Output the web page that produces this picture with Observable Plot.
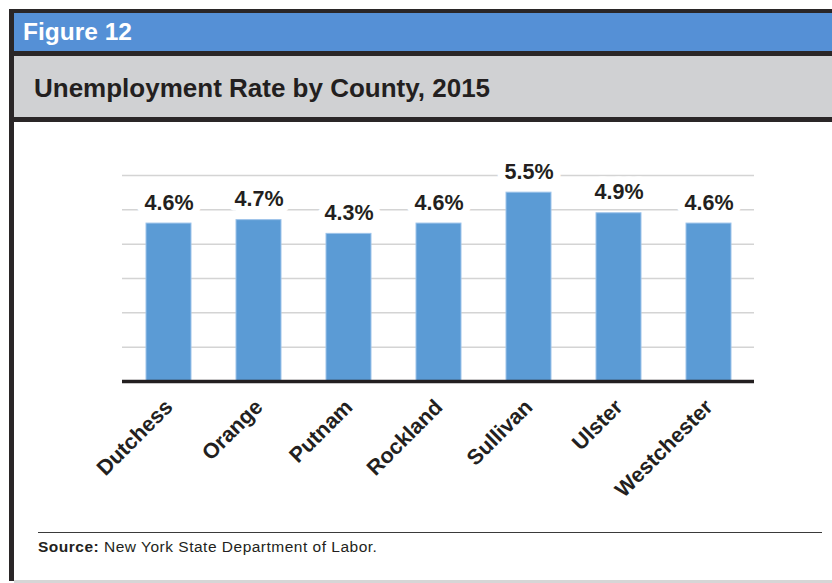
<!DOCTYPE html>
<html>
<head>
<meta charset="utf-8">
<script src="https://cdn.jsdelivr.net/npm/d3@7"></script>
<script src="https://cdn.jsdelivr.net/npm/@observablehq/plot@0.6"></script>
<style>
  html, body { margin: 0; padding: 0; background: #fff; width: 832px; height: 583px; overflow: hidden; }
  body { position: relative; font-family: "Liberation Sans", Arial, Helvetica, sans-serif; }
  .abs { position: absolute; }
  #frameTop { left: 9px; top: 9px; width: 900px; height: 4px; background: #2a2627; }
  #frameLeft { left: 9px; top: 9px; width: 5px; height: 572px; background: #2a2627; }
  #blue { left: 14px; top: 13px; width: 900px; height: 38px; background: #5590d6; }
  #sep1 { left: 14px; top: 51px; width: 900px; height: 5px; background: #2a2627; }
  #gray { left: 14px; top: 56px; width: 900px; height: 61px; background: #d0d1d3; }
  #sep2 { left: 14px; top: 117px; width: 900px; height: 5px; background: #2a2627; }
  #bottomLine { left: 14px; top: 580px; width: 900px; height: 3px; background: #d6d6d6; }
  #fig { left: 23px; top: 17px; color: #fff; font-weight: bold; font-size: 24.5px; line-height: 30px; white-space: nowrap; }
  #title { left: 34px; top: 72px; color: #231f20; font-weight: bold; font-size: 26px; line-height: 32px; white-space: nowrap; }
  #chart { left: 0; top: 122px; }
  #srcLine { left: 38px; top: 532px; width: 784px; height: 1.3px; background: #3a3a3a; }
  #source { left: 38px; top: 538px; color: #231f20; font-size: 15.5px; letter-spacing: 0.5px; line-height: 18px; white-space: nowrap; }
</style>
</head>
<body>
<div class="abs" id="blue"></div>
<div class="abs" id="gray"></div>
<div class="abs" id="frameTop"></div>
<div class="abs" id="frameLeft"></div>
<div class="abs" id="sep1"></div>
<div class="abs" id="sep2"></div>
<div class="abs" id="bottomLine"></div>
<div class="abs" id="fig">Figure 12</div>
<div class="abs" id="title">Unemployment Rate by County, 2015</div>
<div class="abs" id="chart"></div>
<div class="abs" id="srcLine"></div>
<div class="abs" id="source"><b>Source:</b> New York State Department of Labor.</div>
<script>
const counties = ["Dutchess", "Orange", "Putnam", "Rockland", "Sullivan", "Ulster", "Westchester"];
const rates = [4.6, 4.7, 4.3, 4.6, 5.5, 4.9, 4.6];
const gridTicks = [1, 2, 3, 4, 5, 6];

const data = counties.map((c, i) => ({county: c, rate: rates[i]}));

const chart = Plot.plot({
  width: 832,
  height: 400,
  marginLeft: 122,
  marginRight: 78,
  marginTop: 53,
  marginBottom: 141,
  style: {fontFamily: '"Liberation Sans", Arial, Helvetica, sans-serif', background: "transparent", color: "#231f20"},
  x: {domain: counties, paddingInner: 0.5, paddingOuter: 0.25, label: null},
  y: {domain: [0, 6], axis: null},
  marks: [
    Plot.gridY(gridTicks, {stroke: "#d4d4d4", strokeOpacity: 1, strokeWidth: 1.5}),
    Plot.barY(data, {x: "county", y: "rate", fill: "#5b9bd5", stroke: "#9dc3ea", strokeWidth: 1}),
    Plot.ruleY([0], {stroke: "#231f20", strokeWidth: 3.5}),
    Plot.text(data, {
      x: "county", y: "rate", text: d => d.rate.toFixed(1) + "%",
      dy: -14, lineAnchor: "bottom", fontSize: 21.5, fontWeight: "bold",
      fill: "#231f20", stroke: "white", strokeWidth: 15, paintOrder: "stroke"
    }),
    Plot.axisX({
      tickSize: 0, tickRotate: -45, tickPadding: 22, dx: 0, fontSize: 21.5, fontWeight: "bold",
      label: null, fill: "#231f20"
    })
  ]
});
document.getElementById("chart").appendChild(chart);
</script>
</body>
</html>
